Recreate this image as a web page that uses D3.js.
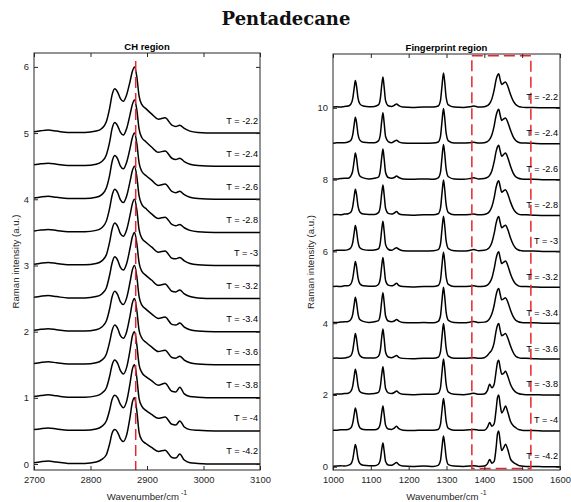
<!DOCTYPE html>
<html><head><meta charset="utf-8">
<script src="https://cdn.jsdelivr.net/npm/d3@7"></script>
<style>body{margin:0;background:#fff} svg{display:block}</style>
</head><body>
<svg id="c" width="571" height="502"></svg>
<script>
// ---------- data ----------
const chartTitle = "Pentadecane";
const temps = ["-2.2","-2.4","-2.6","-2.8","-3","-3.2","-3.4","-3.6","-3.8","-4","-4.2"];

const chTicksX = [2700, 2800, 2900, 3000, 3100];
const chTicksY = [0, 1, 2, 3, 4, 5, 6];
const fpTicksX = [1000, 1100, 1200, 1300, 1400, 1500, 1600];
const fpTicksY = [0, 2, 4, 6, 8, 10];

const chOffsetStep = 0.5;
const fpOffsetStep = 1;
const chMarker = 2880;           // dashed reference line (cm-1)
const fpWindow = [1367, 1523];   // dashed window (cm-1)

const chWavenumbers = [2700,2712,2725,2740,2760,2790,2810,2820,2828,2834,2838,2843,2848,2853,2858,2864,2870,2874,2878,2882,2886,2891,2898,2908,2920,2932,2944,2951,2958,2966,2976,2990,3020,3100];

const chT22 = [0.02,0.035,0.045,0.03,0.01, 0.01,0.03,0.07,0.17,0.38, 0.57,0.67,0.62,0.52,0.48, 0.58,0.78,0.93,1.0,0.85, 0.56,0.43,0.37,0.29,0.21, 0.23,0.12,0.1,0.12,0.07, 0.03,0.01,0,0];
const chT24 = [0.02,0.035,0.045,0.03,0.01, 0.01,0.03,0.07,0.17,0.37, 0.56,0.66,0.61,0.51,0.47, 0.57,0.78,0.93,1.0,0.85, 0.56,0.43,0.37,0.29,0.21, 0.23,0.12,0.1,0.12,0.07, 0.03,0.01,0,0];
const chT26 = [0.02,0.035,0.045,0.03,0.01, 0.01,0.03,0.07,0.17,0.37, 0.56,0.66,0.61,0.5,0.46, 0.56,0.77,0.93,1.0,0.84, 0.55,0.42,0.36,0.29,0.21, 0.23,0.12,0.1,0.12,0.07, 0.03,0.01,0,0];
const chT28 = [0.02,0.035,0.045,0.03,0.01, 0.01,0.03,0.07,0.17,0.37, 0.55,0.65,0.6,0.49,0.45, 0.55,0.77,0.93,1.0,0.84, 0.55,0.42,0.36,0.28,0.21, 0.23,0.12,0.1,0.12,0.07, 0.03,0.01,0,0];
const chT30 = [0.02,0.035,0.045,0.03,0.01, 0.01,0.03,0.07,0.16,0.36, 0.54,0.64,0.59,0.48,0.44, 0.54,0.76,0.93,1.0,0.84, 0.54,0.41,0.35,0.28,0.2, 0.22,0.11,0.1,0.12,0.07, 0.03,0.01,0,0];
const chT32 = [0.02,0.035,0.045,0.03,0.01, 0.01,0.03,0.07,0.16,0.36, 0.53,0.63,0.58,0.47,0.43, 0.53,0.76,0.93,1.0,0.83, 0.54,0.41,0.35,0.28,0.2, 0.22,0.11,0.1,0.13,0.07, 0.03,0.01,0,0];
const chT34 = [0.02,0.035,0.045,0.03,0.01, 0.01,0.03,0.07,0.16,0.35, 0.52,0.61,0.56,0.45,0.41, 0.51,0.75,0.93,1.0,0.83, 0.53,0.4,0.34,0.27,0.2, 0.22,0.11,0.1,0.13,0.07, 0.03,0.01,0,0];
const chT36 = [0.02,0.035,0.045,0.03,0.01, 0.01,0.03,0.07,0.16,0.35, 0.51,0.6,0.55,0.44,0.4, 0.5,0.74,0.93,1.0,0.82, 0.52,0.4,0.34,0.27,0.2, 0.22,0.11,0.1,0.13,0.07, 0.03,0.01,0,0];
const chT38 = [0.02,0.035,0.045,0.03,0.01, 0.01,0.03,0.07,0.15,0.33, 0.49,0.57,0.52,0.41,0.36, 0.46,0.72,0.93,1.0,0.8, 0.5,0.38,0.32,0.26,0.19, 0.22,0.1,0.09,0.16,0.06, 0.02,0.01,0,0];
const chT40 = [0.02,0.035,0.045,0.03,0.01, 0.01,0.03,0.07,0.15,0.32, 0.47,0.54,0.5,0.4,0.35, 0.45,0.72,0.93,1.0,0.8, 0.49,0.37,0.31,0.25,0.19, 0.21,0.1,0.09,0.15,0.06, 0.02,0.01,0,0];
const chT42 = [0.02,0.035,0.045,0.03,0.01, 0.01,0.03,0.07,0.14,0.31, 0.46,0.52,0.48,0.38,0.34, 0.44,0.71,0.93,1.0,0.8, 0.48,0.36,0.31,0.25,0.19, 0.21,0.1,0.09,0.15,0.06, 0.02,0.01,0,0];

const fpWavenumbers = [1000,1010,1020,1030,1040, 1047,1052,1056,1059,1062, 1066,1071,1080,1095,1110, 1120,1125,1129,1132,1135, 1139,1146,1155,1162,1168, 1174,1185,1210,1240,1265, 1278,1284,1288,1292,1295, 1299,1305,1320,1345,1362, 1372,1385,1400,1408,1414, 1420,1426,1431,1435,1438, 1442,1446,1451,1456,1462, 1469,1476,1483,1490,1498, 1510,1530,1560,1600];

const fpT22 = [0.02,0.03,0.02,0.04,0.05, 0.1,0.25,0.55,0.76,0.62, 0.28,0.11,0.05,0.03,0.04, 0.08,0.25,0.65,0.86,0.6, 0.2,0.06,0.04,0.07,0.11, 0.06,0.02,0.01,0.02,0.02, 0.05,0.2,0.6,0.97,0.75, 0.3,0.08,0.02,0.01,0.03, 0.05,0.02,0.03,0.06,0.12, 0.25,0.5,0.78,0.91,0.95, 0.78,0.65,0.69,0.72,0.6, 0.38,0.2,0.09,0.04,0.02, 0.01,0.01,0,0];
const fpT24 = [0.01,0.03,0.03,0.03,0.05, 0.09,0.24,0.53,0.74,0.61, 0.27,0.1,0.04,0.03,0.03, 0.08,0.25,0.65,0.86,0.6, 0.2,0.06,0.03,0.07,0.1, 0.05,0.02,0.01,0.01,0.02, 0.05,0.2,0.61,0.98,0.75, 0.3,0.08,0.02,0.02,0.03, 0.04,0.02,0.03,0.06,0.12, 0.25,0.5,0.78,0.92,0.96, 0.79,0.65,0.69,0.72,0.6, 0.38,0.2,0.09,0.04,0.02, 0.02,0.01,0,0];
const fpT26 = [0.02,0.02,0.03,0.04,0.04, 0.1,0.24,0.53,0.74,0.61, 0.27,0.1,0.05,0.02,0.04, 0.07,0.25,0.64,0.85,0.6, 0.2,0.06,0.04,0.06,0.1, 0.06,0.02,0.01,0.02,0.01, 0.05,0.2,0.61,0.98,0.75, 0.3,0.08,0.02,0.01,0.03, 0.05,0.02,0.03,0.06,0.12, 0.25,0.5,0.78,0.92,0.96, 0.79,0.65,0.7,0.74,0.61, 0.38,0.19,0.08,0.04,0.02, 0.01,0.01,0,0];
const fpT28 = [0.02,0.03,0.02,0.04,0.05, 0.09,0.24,0.53,0.73,0.6, 0.27,0.1,0.04,0.03,0.03, 0.08,0.25,0.64,0.85,0.6, 0.2,0.06,0.04,0.07,0.11, 0.05,0.02,0.01,0.02,0.02, 0.05,0.2,0.61,0.99,0.76, 0.31,0.08,0.02,0.02,0.03, 0.04,0.02,0.03,0.06,0.12, 0.25,0.5,0.78,0.93,0.97, 0.8,0.65,0.69,0.72,0.6, 0.38,0.2,0.09,0.04,0.02, 0.02,0.01,0,0];
const fpT30 = [0.01,0.03,0.03,0.03,0.05, 0.1,0.24,0.52,0.72,0.59, 0.27,0.1,0.05,0.03,0.04, 0.07,0.24,0.63,0.84,0.59, 0.19,0.06,0.03,0.07,0.1, 0.06,0.02,0.01,0.01,0.02, 0.05,0.2,0.61,0.98,0.75, 0.3,0.08,0.02,0.01,0.03, 0.05,0.02,0.03,0.06,0.12, 0.25,0.5,0.78,0.93,0.97, 0.8,0.66,0.7,0.73,0.61, 0.38,0.2,0.09,0.04,0.02, 0.01,0.01,0,0];
const fpT32 = [0.02,0.03,0.02,0.04,0.04, 0.09,0.24,0.52,0.72,0.59, 0.27,0.1,0.04,0.03,0.03, 0.08,0.24,0.62,0.83,0.58, 0.19,0.06,0.04,0.07,0.11, 0.05,0.02,0.01,0.02,0.02, 0.05,0.2,0.61,0.98,0.75, 0.3,0.08,0.02,0.02,0.03, 0.04,0.02,0.03,0.06,0.13, 0.26,0.52,0.8,0.95,0.99, 0.81,0.66,0.7,0.73,0.61, 0.38,0.2,0.09,0.04,0.02, 0.02,0.01,0,0];
const fpT34 = [0.02,0.02,0.03,0.04,0.05, 0.1,0.24,0.52,0.72,0.59, 0.27,0.1,0.05,0.02,0.04, 0.07,0.25,0.64,0.85,0.6, 0.2,0.06,0.04,0.06,0.1, 0.06,0.02,0.01,0.02,0.01, 0.05,0.2,0.62,1.0,0.77, 0.31,0.08,0.02,0.01,0.03, 0.05,0.02,0.03,0.06,0.13, 0.26,0.5,0.78,0.93,0.97, 0.8,0.65,0.68,0.71,0.59, 0.37,0.19,0.08,0.04,0.02, 0.01,0.01,0,0];
const fpT36 = [0.02,0.03,0.02,0.03,0.05, 0.09,0.23,0.51,0.71,0.58, 0.26,0.1,0.04,0.03,0.03, 0.08,0.24,0.63,0.84,0.59, 0.19,0.06,0.04,0.07,0.1, 0.05,0.02,0.01,0.02,0.02, 0.05,0.2,0.61,0.99,0.76, 0.31,0.08,0.02,0.02,0.03, 0.04,0.02,0.04,0.1,0.18, 0.26,0.46,0.78,0.95,0.99, 0.8,0.65,0.68,0.71,0.59, 0.37,0.19,0.08,0.04,0.02, 0.02,0.01,0,0];
const fpT38 = [0.01,0.03,0.03,0.04,0.05, 0.1,0.24,0.52,0.72,0.59, 0.27,0.1,0.05,0.03,0.04, 0.07,0.23,0.59,0.79,0.55, 0.18,0.06,0.04,0.07,0.11, 0.06,0.02,0.01,0.02,0.02, 0.05,0.2,0.62,1.0,0.77, 0.31,0.08,0.02,0.01,0.03, 0.05,0.02,0.03,0.12,0.3, 0.2,0.3,0.65,0.92,0.97, 0.75,0.58,0.6,0.66,0.52, 0.3,0.16,0.08,0.04,0.02, 0.01,0.01,0,0];
const fpT40 = [0.02,0.02,0.03,0.03,0.04, 0.08,0.21,0.46,0.64,0.52, 0.24,0.09,0.04,0.03,0.03, 0.07,0.2,0.52,0.69,0.48, 0.16,0.05,0.04,0.08,0.13, 0.06,0.02,0.01,0.02,0.02, 0.04,0.18,0.56,0.9,0.69, 0.28,0.07,0.02,0.02,0.03, 0.04,0.02,0.02,0.1,0.23, 0.13,0.2,0.58,0.94,1.0, 0.72,0.5,0.58,0.69,0.52, 0.27,0.15,0.09,0.04,0.02, 0.01,0.01,0,0];
const fpT42 = [0.01,0.02,0.03,0.02,0.04, 0.08,0.2,0.45,0.62,0.51, 0.23,0.09,0.04,0.03,0.03, 0.07,0.19,0.5,0.66,0.46, 0.15,0.05,0.04,0.08,0.12, 0.06,0.02,0.01,0.02,0.01, 0.04,0.17,0.53,0.86,0.66, 0.27,0.06,0.02,0.01,0.02, 0.03,0.01,0.02,0.08,0.2, 0.1,0.15,0.52,0.93,1.0, 0.7,0.45,0.53,0.63,0.48, 0.22,0.13,0.08,0.04,0.02, 0.01,0.01,0,0];

const chSpectra = [chT22, chT24, chT26, chT28, chT30, chT32, chT34, chT36, chT38, chT40, chT42];
const fpSpectra = [fpT22, fpT24, fpT26, fpT28, fpT30, fpT32, fpT34, fpT36, fpT38, fpT40, fpT42];

// ---------- drawing ----------
const svg = d3.select("#c");
const AX = "#262626";
const SANS = "'Liberation Sans', Arial, Helvetica, sans-serif";

svg.append("text")
  .attr("x", 286).attr("y", 25)
  .attr("text-anchor", "middle")
  .attr("font-family", "'DejaVu Serif', serif")
  .attr("font-weight", "bold")
  .attr("font-size", 18)
  .attr("fill", "#111")
  .text(chartTitle);

function panel(cfg) {
  const g = svg.append("g");
  const x = d3.scaleLinear().domain(cfg.xDomain).range([cfg.left, cfg.right]);
  const y = d3.scaleLinear().domain(cfg.yDomain).range([cfg.bottom, cfg.top]);
  const clipId = "clip-" + cfg.id;
  svg.append("defs").append("clipPath").attr("id", clipId)
    .append("rect").attr("x", cfg.left).attr("y", cfg.top)
    .attr("width", cfg.right - cfg.left).attr("height", cfg.bottom - cfg.top);

  const n = cfg.spectra.length;
  const plot = g.append("g").attr("clip-path", `url(#${clipId})`);
  cfg.spectra.forEach((s, i) => {
    const off = (n - 1 - i) * cfg.step;
    const pts = cfg.wn.map((w, k) => [w, s[k] + off]);
    const line = d3.line().x(d => x(d[0])).y(d => y(d[1])).curve(d3.curveMonotoneX);
    plot.append("path").attr("d", line(pts))
      .attr("fill", "none").attr("stroke", "#000").attr("stroke-width", 1.5)
      .attr("stroke-linejoin", "round");
  });

  // temperature labels
  cfg.spectra.forEach((s, i) => {
    const off = (n - 1 - i) * cfg.step;
    g.append("text")
      .attr("x", cfg.labelX).attr("y", y(off) - cfg.labelLift)
      .attr("text-anchor", "end")
      .attr("dominant-baseline", "middle")
      .attr("font-family", SANS).attr("font-size", 9.2).attr("fill", "#000")
      .text("T = " + temps[i]);
  });

  // annotations
  cfg.annotate(plot, x, y);

  // axes
  const ax = g.append("g").attr("font-family", SANS);
  const bottom = ax.append("g").attr("transform", `translate(0,${cfg.bottom})`)
    .call(d3.axisBottom(x).tickValues(cfg.ticksX).tickSize(-4).tickPadding(6).tickFormat(d3.format("d")));
  const top = ax.append("g").attr("transform", `translate(0,${cfg.top})`)
    .call(d3.axisTop(x).tickValues(cfg.ticksX).tickSize(-4).tickFormat(""));
  const left = ax.append("g").attr("transform", `translate(${cfg.left},0)`)
    .call(d3.axisLeft(y).tickValues(cfg.ticksY).tickSize(-4).tickPadding(5).tickFormat(d3.format("d")));
  const right = ax.append("g").attr("transform", `translate(${cfg.right},0)`)
    .call(d3.axisRight(y).tickValues(cfg.ticksY).tickSize(-4).tickFormat(""));
  [bottom, top, left, right].forEach(a => {
    a.select(".domain").remove();
    a.selectAll("line").attr("stroke", AX);
    a.selectAll("text").attr("fill", AX).attr("font-size", 9.4).attr("font-family", SANS);
  });
  ax.append("rect").attr("x", cfg.left).attr("y", cfg.top)
    .attr("width", cfg.right - cfg.left).attr("height", cfg.bottom - cfg.top)
    .attr("fill", "none").attr("stroke", AX).attr("stroke-width", 1);

  // panel title
  g.append("text").attr("x", (cfg.left + cfg.right) / 2).attr("y", cfg.top - 3.5)
    .attr("text-anchor", "middle").attr("font-family", SANS)
    .attr("font-weight", "bold").attr("font-size", 9.5).attr("fill", "#000")
    .text(cfg.title);

  // x label
  const xl = g.append("text").attr("x", (cfg.left + cfg.right) / 2).attr("y", 499.5)
    .attr("text-anchor", "middle").attr("font-family", SANS).attr("font-size", 9.6).attr("fill", AX);
  xl.append("tspan").text("Wavenumber/cm");
  xl.append("tspan").attr("dy", -5).attr("font-size", 7).text(" -1");

  // y label
  g.append("text")
    .attr("transform", `translate(${cfg.yLabelX},${(cfg.top + cfg.bottom) / 2}) rotate(-90)`)
    .attr("text-anchor", "middle").attr("font-family", SANS).attr("font-size", 9.6).attr("fill", AX)
    .text("Raman intensity (a.u.)");
}

panel({
  id: "ch", title: "CH region",
  left: 34, right: 260, top: 53, bottom: 470,
  xDomain: [2700, 3100], yDomain: [-0.09, 6.21],
  ticksX: chTicksX, ticksY: chTicksY,
  wn: chWavenumbers, spectra: chSpectra, step: chOffsetStep,
  labelX: 258, labelLift: 12, yLabelX: 18.5,
  annotate: (p, x, y) => {
    p.append("line")
      .attr("x1", x(chMarker)).attr("x2", x(chMarker))
      .attr("y1", y(6.09)).attr("y2", y(-0.1))
      .attr("stroke", "#e8262b").attr("stroke-width", 1.5)
      .attr("stroke-dasharray", "11,5");
  }
});

panel({
  id: "fp", title: "Fingerprint region",
  left: 333, right: 560, top: 54, bottom: 470,
  xDomain: [1000, 1600], yDomain: [-0.09, 11.5],
  ticksX: fpTicksX, ticksY: fpTicksY,
  wn: fpWavenumbers, spectra: fpSpectra, step: fpOffsetStep,
  labelX: 558, labelLift: 10, yLabelX: 313.5,
  annotate: (p, x, y) => {
    p.append("rect")
      .attr("x", x(fpWindow[0])).attr("y", y(11.45))
      .attr("width", x(fpWindow[1]) - x(fpWindow[0]))
      .attr("height", y(-0.05) - y(11.45))
      .attr("fill", "none")
      .attr("stroke", "#e8262b").attr("stroke-width", 1.5)
      .attr("stroke-dasharray", "11,5");
  }
});
</script>
</body></html>
